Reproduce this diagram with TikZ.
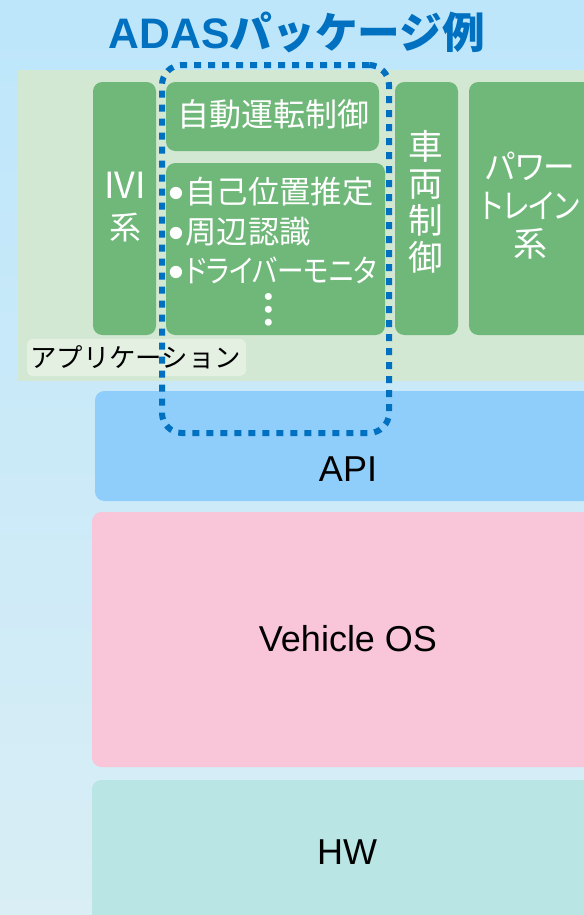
\documentclass[tikz,border=0pt]{standalone}
\usepackage{fontspec}
\setmainfont{Liberation Sans}
\newfontfamily\jp{Noto Sans CJK JP}
\newfontfamily\jpp{Noto Sans CJK JP}[RawFeature=+palt]
\newfontfamily\jpn{Noto Sans CJK JP}[RawFeature=+palt, FakeStretch=0.85]
\definecolor{bgtop}{HTML}{BDE6FB}
\definecolor{bgbot}{HTML}{D9EEF5}
\definecolor{appbg}{HTML}{D2E8D3}
\definecolor{lblbg}{HTML}{E3F0E2}
\definecolor{boxgreen}{HTML}{70B87A}
\definecolor{apiblue}{HTML}{8FCEFB}
\definecolor{ospink}{HTML}{F9C6D9}
\definecolor{hwteal}{HTML}{B9E5E5}
\definecolor{adasblue}{HTML}{0070C0}
\newcommand\pxu{0.75pt}
\newcommand\bul{\smash{\raisebox{-4pt}{\rmfamily\fontsize{34pt}{30pt}\selectfont •}}\hspace{1pt}}
\begin{document}
\begin{tikzpicture}[x=0.75pt,y=-0.75pt,
  layer/.style={rectangle, anchor=north west, inner sep=0pt, outer sep=0pt, draw=none},
  gbox/.style={layer, fill=boxgreen, rounded corners=7pt},
  wtext/.style={text=white, inner sep=0pt, align=center},
  btext/.style={text=black, inner sep=0pt},
  adasframe/.style={layer, draw=adasblue, line width=6*\pxu, dash pattern=on 7*\pxu off 7*\pxu, rounded corners=15pt}]
\useasboundingbox (0,0) rectangle (584,915);
\clip (0,0) rectangle (584,915);
\shade[top color=bgtop, bottom color=bgbot] (0,0) rectangle (584,915);

% title
\node[inner sep=0pt, text=adasblue] (title) at (297,32)
  {\fontsize{32pt}{36pt}\selectfont\bfseries ADAS{\jp\bfseries パッケージ例}};

% application layer
\node[layer, fill=appbg, minimum width=620*\pxu, minimum height=311*\pxu] (app) at (18,70) {};
\node[layer, fill=lblbg, rounded corners=4pt, minimum width=219*\pxu, minimum height=37*\pxu] (lbl) at (27,339) {};
\node[btext, anchor=west, font={\jp\fontsize{19.8pt}{22pt}\selectfont}] (lblt) at (30,357.5) {アプリケーション};

\node[gbox, minimum width=63*\pxu, minimum height=253*\pxu] (ivi) at (93,82) {};
\node[gbox, minimum width=213*\pxu, minimum height=69*\pxu] (adc) at (166,82) {};
\node[gbox, minimum width=219*\pxu, minimum height=172*\pxu] (rec) at (166,163) {};
\node[gbox, minimum width=63*\pxu, minimum height=253*\pxu] (veh) at (395,82) {};
\node[gbox, minimum width=140*\pxu, minimum height=253*\pxu] (pt) at (469,82) {};

\node[wtext, font={\jpp\fontsize{24pt}{30.75pt}\selectfont}] (ivit) at (125,207)
  {{\fontsize{27pt}{30.75pt}\selectfont IVI}\\系};
\node[wtext, font={\jpp\fontsize{24pt}{28pt}\selectfont}] (adct) at (273.5,114) {自動運転制御};
\node[wtext, anchor=west, align=left, font={\jpp\fontsize{23.5pt}{29.6pt}\selectfont}] (rect) at (168,230.5)
  {\bul 自己位置推定\\\bul 周辺認識\\\bul{\jpn ドライバーモニタ}};
\node[wtext, font={\jp\bfseries\fontsize{29pt}{30pt}\selectfont}] (dots) at (269,310) {︙};
\node[wtext, font={\jpp\fontsize{26pt}{27.75pt}\selectfont}] (veht) at (426,202) {車\\両\\制\\御};
\node[wtext, font={\jpp\fontsize{25.5pt}{28.9pt}\selectfont}] (ptt) at (530,206)
  {{\jpn\addfontfeature{FakeStretch=0.93}パワー}\\{\jpn トレイン}\\系};

% lower layers
\node[layer, fill=apiblue, rounded corners=7pt, minimum width=520*\pxu, minimum height=110*\pxu] (api) at (95,391) {};
\node[btext, font={\fontsize{27pt}{30pt}\selectfont}] (apit) at (348,469.5) {API};
\node[layer, fill=ospink, rounded corners=7pt, minimum width=520*\pxu, minimum height=255*\pxu] (os) at (92,512) {};
\node[btext, font={\fontsize{27pt}{30pt}\selectfont}] (ost) at (348,639) {Vehicle OS};
\node[layer, fill=hwteal, rounded corners=7pt, minimum width=520*\pxu, minimum height=160*\pxu] (hw) at (92,780) {};
\node[btext, font={\fontsize{27pt}{30pt}\selectfont}] (hwt) at (347,852.5) {HW};

% ADAS package frame
\node[adasframe, minimum width=227*\pxu, minimum height=368*\pxu] (adas) at (162,65) {};
\end{tikzpicture}
\end{document}
